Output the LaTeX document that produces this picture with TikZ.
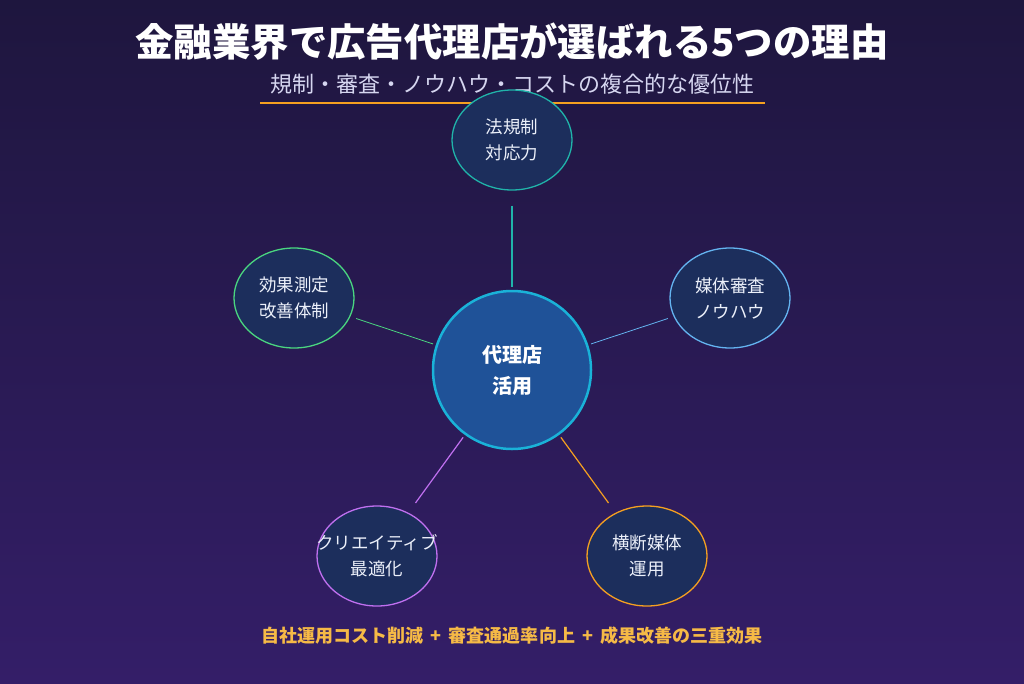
\documentclass[tikz,border=0pt]{standalone}
\usepackage{fontspec}
\setmainfont{Noto Sans CJK JP}
\newfontfamily\jp{Noto Sans CJK JP}
\definecolor{bgtop}{RGB}{30,22,62}
\definecolor{bgbot}{RGB}{52,30,104}
\definecolor{nodefill}{RGB}{28,46,92}
\definecolor{centerfill}{RGB}{31,82,152}
\definecolor{centerline}{RGB}{26,178,216}
\definecolor{cteal}{RGB}{32,180,170}
\definecolor{cgreen}{RGB}{74,214,128}
\definecolor{cblue}{RGB}{100,180,240}
\definecolor{cpurple}{RGB}{192,112,240}
\definecolor{corange}{RGB}{245,160,32}
\definecolor{subcol}{RGB}{214,214,240}
\definecolor{nodetext}{RGB}{236,240,250}
\definecolor{gold}{RGB}{246,186,70}
\tikzset{
  reason/.style={ellipse, draw, line width=1.3pt, fill=nodefill, minimum width=120pt, minimum height=100pt, inner sep=0pt},
  reasontext/.style={align=center, text=nodetext, inner sep=0pt, font=\jp\fontsize{17.5}{26}\selectfont},
  hub/.style={circle, draw=centerline, line width=2.5pt, fill=centerfill, minimum size=158pt, inner sep=0pt, align=center, text=white, font=\jp\bfseries\fontsize{20}{31}\selectfont},
  link/.style={line width=1.2pt, shorten <=6pt, shorten >=3pt},
}
\usetikzlibrary{shapes.geometric}
\begin{document}
\begin{tikzpicture}[x=1pt,y=-1pt]
\shade[top color=bgtop, bottom color=bgbot] (0,0) rectangle (1024,683);
\useasboundingbox (0,0) rectangle (1024,683);
\node[font=\jp\bfseries\fontsize{38.4}{44}\selectfont, text=white] (title) at (512,42) {金融業界で広告代理店が選ばれる5つの理由};
\node[font=\jp\fontsize{22}{26}\selectfont, text=subcol] (sub) at (512,84) {規制・審査・ノウハウ・コストの複合的な優位性};
\coordinate (ul) at (260,103);
\coordinate (ur) at (765,103);
\draw[corange, line width=2.5pt] (ul) -- (ur);
\node[hub] (c) at (512,370) {代理店\\活用};
\node[reason, draw=cteal] (t) at (512,140) {};
\node[reasontext] (tt) at (t.center) {法規制\\対応力};
\node[reason, draw=cgreen] (l) at (294,298) {};
\node[reasontext] (lt) at (l.center) {効果測定\\改善体制};
\node[reason, draw=cblue] (r) at (730,298) {};
\node[reasontext] (rt) at (r.center) {媒体審査\\ノウハウ};
\node[reason, draw=cpurple] (bl) at (377,556) {};
\node[reasontext] (blt) at (bl.center) {クリエイティブ\\最適化};
\node[reason, draw=corange] (br) at (647,556) {};
\node[reasontext] (brt) at (br.center) {横断媒体\\運用};
\draw[link, cteal, shorten <=15pt] (t) -- (c);
\draw[link, cgreen, line width=0.8pt] (l) -- (c);
\draw[link, cblue, line width=0.8pt] (r) -- (c);
\draw[link, cpurple, shorten <=12pt] (bl) -- (c);
\draw[link, corange, shorten <=12pt] (br) -- (c);
\node[font=\jp\bfseries\fontsize{18}{22}\selectfont, text=gold] (foot) at (512,636) {自社運用コスト削減 \,+\, 審査通過率向上 \,+\, 成果改善の三重効果};
\end{tikzpicture}
\end{document}
